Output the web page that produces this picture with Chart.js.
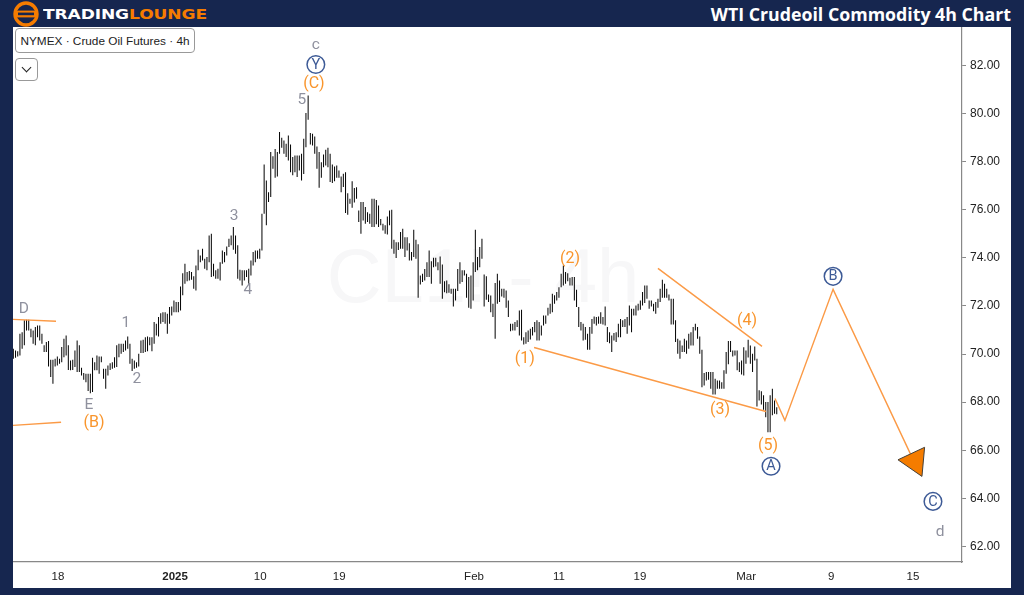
<!DOCTYPE html>
<html>
<head>
<meta charset="utf-8">
<script src="https://cdn.jsdelivr.net/npm/chart.js@4"></script>
<style>
html,body{margin:0;padding:0;width:1024px;height:595px;background:#16264f;overflow:hidden}
#panel{position:absolute;left:13px;top:27px;width:998px;height:561px;background:#fff}
canvas{display:block}
#title{position:absolute;right:13px;top:2px;height:24px;line-height:24px;color:#fff;font:700 17.75px "Open Sans",sans-serif;white-space:nowrap}
#brand{position:absolute;left:43px;top:6px;font:700 14.6px "DejaVu Sans",sans-serif;line-height:16px;white-space:nowrap;transform-origin:0 0;transform:scaleX(1.17);letter-spacing:-.1px;color:#fff}
#brand span{color:#f57c00}
#logo{position:absolute;left:13px;top:1px}
#sym{position:absolute;left:15px;top:28px;width:178px;height:23px;border:1px solid #999;border-radius:4px;background:#fff;font:11.8px/24px "Liberation Sans",Arial,sans-serif;color:#222;text-align:center;white-space:nowrap}
#chev{position:absolute;left:15px;top:58px;width:21px;height:21px;border:1px solid #999;border-radius:4px;background:#fff}
#chev i{position:absolute;left:7px;top:5px;width:6px;height:6px;border-right:1.5px solid #222;border-bottom:1.5px solid #222;transform:rotate(45deg)}
</style>
</head>
<body>
<svg id="logo" width="26" height="26" viewBox="0 0 26 26">
<circle cx="13" cy="13" r="11" fill="#16264f" stroke="#f57c00" stroke-width="3.4"/>
<rect x="3" y="9.6" width="20" height="6.8" fill="#f57c00"/>
<rect x="5" y="11.6" width="16" height="2.6" fill="#16264f"/>
</svg>
<div id="brand">TRADING<span>LOUNGE</span></div>
<div id="title">WTI Crudeoil Commodity 4h Chart</div>
<div id="panel"><canvas id="c" width="998" height="561"></canvas></div>
<div id="sym">NYMEX · Crude Oil Futures · 4h</div>
<div id="chev"><i></i></div>
<script>
const highs = [
70.22,70.15,70.12,70.84,70.91,71.40,71.42,71.42,71.05,70.98,71.12,71.19,71.19,70.84,70.36,70.50,70.54,69.76,69.76,69.80,
69.90,69.80,70.29,70.63,70.77,70.36,69.73,69.76,70.15,70.56,70.36,69.43,69.21,69.18,69.18,69.18,69.84,69.66,69.94,69.90,
69.90,69.39,69.39,69.52,69.62,69.66,69.87,70.36,70.43,70.43,70.43,70.56,70.73,70.43,69.80,69.73,69.66,70.01,70.56,70.59,
70.70,70.73,70.70,70.70,71.33,71.26,71.54,71.70,71.74,71.74,71.67,71.95,71.98,72.23,72.16,72.16,
72.81,73.36,73.75,73.41,73.45,73.41,73.23,73.68,74.34,74.10,74.38,73.96,74.03,74.93,75.00,73.75,73.48,73.55,73.82,74.31,
74.24,74.47,74.79,74.93,75.28,74.93,74.52,73.50,73.48,73.48,73.48,73.55,73.89,74.24,74.31,74.31,74.38,
75.83,77.88,77.22,76.73,78.40,78.22,78.53,78.40,79.23,78.99,78.88,78.74,79.09,78.71,78.19,78.26,78.26,78.26,78.33,78.95,
80.02,80.75,79.19,79.16,79.05,78.63,78.40,77.98,78.30,78.49,78.58,78.33,77.88,77.80,77.84,77.63,77.38,77.50,77.56,76.69,76.46,
77.19,76.90,76.94,75.97,76.32,76.32,76.11,75.90,75.83,76.46,76.46,76.40,76.18,75.62,75.42,75.35,75.72,75.97,76.00,74.75,
74.65,74.65,75.07,75.21,74.86,74.86,74.61,
74.24,75.17,74.75,74.56,73.27,73.34,73.54,73.82,74.31,73.86,74.00,74.00,73.82,74.06,73.72,73.03,73.06,72.90,72.71,72.71,72.71,
73.54,73.82,73.48,73.48,73.34,73.20,73.27,73.82,75.17,74.03,74.45,74.79,73.31,73.23,72.48,72.43,72.09,72.95,73.34,73.06,
72.71,72.71,72.64,72.23,
71.26,71.26,71.33,71.40,71.81,71.84,70.70,70.91,70.98,71.05,71.12,71.33,71.40,71.33,71.19,71.60,71.60,71.92,72.09,72.51,72.44,
72.58,72.78,73.34,73.68,73.41,73.36,73.17,73.20,73.20,72.67,71.95,71.33,71.26,71.12,70.84,71.12,71.46,71.56,71.54,71.56,
71.74,71.54,71.98,71.12,70.91,70.77,70.87,70.91,71.26,71.46,71.40,71.46,71.54,72.02,71.88,71.88,72.02,72.09,72.23,72.58,
72.85,72.85,72.23,72.23,72.09,72.16,72.30,72.71,73.09,72.92,72.71,72.48,72.30,72.30,71.40,70.63,70.56,70.35,70.63,70.56,
70.84,70.91,71.12,71.26,71.12,70.73,70.18,69.21,69.25,69.25,69.25,69.25,68.97,68.90,68.90,68.83,69.32,70.08,70.54,
70.54,70.15,70.15,70.15,69.66,69.73,70.28,70.15,70.59,70.35,70.01,70.31,69.80,68.49,68.45,68.28,68.00,68.00,68.28,
68.56,68.07,67.79];
const lows = [
69.80,69.84,69.90,69.94,70.22,70.36,70.98,70.98,70.70,70.43,70.36,70.70,70.56,70.43,70.08,70.08,69.48,69.04,68.76,69.48,
69.52,69.59,69.66,69.87,69.94,69.34,69.32,69.34,69.46,69.25,69.25,69.11,68.93,68.83,68.46,68.37,68.42,69.32,69.32,69.18,
69.66,68.97,68.56,69.11,69.34,69.39,69.43,69.46,69.87,70.01,70.08,70.15,70.22,69.59,69.29,69.39,69.43,69.48,70.04,70.04,
70.08,70.12,70.36,70.12,70.43,70.77,70.73,71.26,71.33,71.26,70.84,71.26,71.60,71.74,71.74,71.74,
71.81,72.44,72.92,73.03,73.06,73.09,72.71,72.64,73.48,73.82,73.89,73.55,73.48,73.82,73.20,73.23,73.13,73.13,73.06,73.75,
73.82,74.10,74.45,74.52,74.34,74.17,73.13,73.06,72.85,73.06,73.20,72.92,73.27,73.68,73.82,73.96,73.96,
74.31,75.83,75.35,76.32,76.53,77.70,77.33,77.38,78.33,78.58,78.33,78.19,78.05,77.56,77.43,77.56,77.36,77.63,77.22,77.49,
78.60,79.74,78.71,78.67,78.33,77.70,76.91,77.33,77.77,77.84,77.77,77.15,77.11,77.19,77.33,77.33,76.73,76.95,75.86,75.79,76.25,
76.08,76.30,76.46,75.49,75.00,75.55,75.42,75.49,75.42,75.28,75.28,75.40,75.28,75.35,75.14,75.00,74.97,75.35,74.38,74.17,
73.99,74.33,74.38,74.38,74.03,74.31,73.89,
73.89,74.03,73.96,72.34,72.89,72.99,73.06,73.20,73.20,72.92,73.61,73.64,73.48,72.92,72.30,72.57,72.53,72.55,72.51,71.98,72.23,
72.62,72.92,72.99,73.27,72.34,71.92,71.88,72.23,73.41,73.48,73.61,73.96,71.98,72.26,72.16,71.74,71.54,70.63,72.09,72.16,
72.39,72.34,71.92,71.54,
70.95,70.98,70.98,71.12,70.77,70.56,70.40,70.43,70.50,70.60,70.77,70.91,70.56,70.56,70.77,71.19,71.26,71.60,71.67,71.74,72.09,
72.23,72.34,72.78,72.85,72.92,73.03,72.85,72.85,72.23,71.95,71.12,70.98,70.56,70.59,70.18,70.18,70.84,71.26,71.19,71.26,
71.26,71.23,71.19,70.50,70.45,70.08,70.56,70.50,70.70,70.70,71.12,71.12,70.84,71.19,70.91,71.60,71.60,71.81,71.84,72.02,
72.12,72.30,71.88,71.98,71.78,71.67,71.92,72.16,72.34,72.34,72.34,72.23,71.23,71.23,70.50,70.01,69.80,70.08,70.08,70.01,
70.22,70.35,70.35,70.98,70.63,70.01,68.62,68.69,68.90,68.93,68.56,68.32,68.32,68.56,68.56,68.56,68.56,69.18,69.57,
70.08,69.90,69.94,69.32,69.25,69.15,69.11,69.60,69.85,69.60,69.25,69.73,67.82,68.07,67.90,67.68,67.37,66.75,66.75,
67.45,67.52,67.49];

const yTickValues = [62,64,66,68,70,72,74,76,78,80,82];
const xTickValues = [20.3,73.5,112.2,148.1,209.4,248.0,284.8,333.1,371.7,408.9];
const xTickLabels = ['18','2025','10','19','Feb','11','19','Mar','9','15'];

const dLine = [{x:-0.15,y:71.44},{x:19.4,y:71.36}];
const bLine = [{x:-0.15,y:67.03},{x:21.7,y:67.16}];
const lowerWedge = [{x:236.7,y:70.27},{x:342.1,y:67.61}];
const upperWedge = [{x:293.0,y:73.56},{x:340.3,y:70.32}];
const projection = [{x:346.2,y:68.15},{x:350.7,y:67.24},{x:372.6,y:72.69},{x:408.5,y:65.70}];
const arrowHead = [{x:402.1,y:65.60},{x:414.2,y:66.12},{x:413.0,y:64.91},{x:402.1,y:65.60}];

const grayLabels = [['c',137.5,82.87],['5',131.2,80.59],['D',4.8,71.90],['E',34.4,67.90],['1',51.2,71.31],['2',56.2,68.99],['3',100.3,75.76],['4',106.6,72.69],['d',421.2,62.62]];
const orangeLabels = [['(C)',136.6,81.25],['(B)',36.7,67.16],['(1)',232.5,69.82],['(2)',253,73.98],['(3)',321.2,67.70],['(4)',333.5,71.40],['(5)',343,66.20]];
const circleLabels = [['Y',137.5,82.04],['A',344.4,65.33],['B',372.6,73.23],['C',418,63.87]];

const ORANGE='#f9952c', GRAY='#8f919e', BLUE='#3d5a96';
const labelFont='"Roboto","Liberation Sans",sans-serif';

const overlay={
  id:'overlay',
  beforeDatasetsDraw(chart){
    const {ctx}=chart;
    ctx.save();
    ctx.font='76px "Liberation Sans",Arial,sans-serif';
    ctx.fillStyle='#f7f7f8';
    ctx.textAlign='center';ctx.textBaseline='middle';
    ctx.fillText('CL1! - 4h',470,254);
    ctx.restore();
  },
  afterDatasetsDraw(chart){
    const {ctx,scales:{x,y}}=chart;
    ctx.save();
    ctx.textAlign='center';ctx.textBaseline='middle';
    ctx.font='15.5px '+labelFont;
    ctx.fillStyle=GRAY;
    grayLabels.forEach(([t,a,b])=>ctx.fillText(t,x.getPixelForValue(a),y.getPixelForValue(b)+0.5));
    ctx.font='16px '+labelFont;
    ctx.fillStyle=ORANGE;
    orangeLabels.forEach(([t,a,b])=>ctx.fillText(t,x.getPixelForValue(a),y.getPixelForValue(b)+0.5));
    ctx.font='14.5px '+labelFont;
    ctx.strokeStyle=BLUE;ctx.fillStyle=BLUE;ctx.lineWidth=1.5;
    circleLabels.forEach(([t,a,b])=>{
      const px=x.getPixelForValue(a),py=y.getPixelForValue(b);
      ctx.beginPath();ctx.arc(px,py,8.8,0,Math.PI*2);ctx.stroke();
      ctx.fillText(t,px,py+0.5);
    });
    ctx.restore();
  }
};

const lineDs=(data,order)=>({type:'line',data,borderColor:'#fb9a46',borderWidth:1.4,pointRadius:0,tension:0,fill:false,order,parsing:false});

new Chart(document.getElementById('c'),{
  data:{datasets:[
    {type:'line',data:arrowHead,borderColor:'#44403a',borderWidth:1,backgroundColor:'#f57c00',fill:'shape',pointRadius:0,tension:0,order:0,parsing:false},
    lineDs(projection,1),lineDs(upperWedge,1),lineDs(lowerWedge,1),lineDs(dLine,1),lineDs(bLine,1),
    {type:'bar',data:lows.map((l,i)=>({x:i,y:[l,highs[i]]})),backgroundColor:'#000',barThickness:1,inflateAmount:0,borderWidth:0,order:2}
  ]},
  options:{
    responsive:false,animation:false,devicePixelRatio:1,
    layout:{padding:0},
    plugins:{legend:{display:false},tooltip:{enabled:false},filler:{propagate:false}},
    scales:{
      x:{type:'linear',min:-0.15,max:431.2,offset:false,
        grid:{display:false,drawTicks:false},border:{color:'#888',width:1.2},
        afterBuildTicks(ax){ax.ticks=xTickValues.map(v=>({value:v}));},
        afterFit(ax){ax.height=26;ax.paddingLeft=0;ax.paddingRight=0;},
        ticks:{autoSkip:false,maxRotation:0,padding:8,color:'#222',
          callback:(v,i)=>xTickLabels[i],
          font:c=>({family:'"Liberation Sans",Arial,sans-serif',size:11.5,weight:c.index===1?'bold':'normal'})}
      },
      y:{type:'linear',position:'right',min:61.35,max:83.60,
        grid:{drawOnChartArea:false,drawTicks:true,tickLength:4,color:'#888'},border:{color:'#888',width:1.2},
        afterBuildTicks(ax){ax.ticks=yTickValues.map(v=>({value:v}));},
        afterFit(ax){ax.width=49;ax.paddingTop=0;ax.paddingBottom=0;},
        ticks:{autoSkip:false,padding:4,color:'#222',
          callback:v=>v.toFixed(2),
          font:{family:'"Liberation Sans",Arial,sans-serif',size:12}}
      }
    }
  },
  plugins:[overlay]
});
</script>
</body>
</html>
